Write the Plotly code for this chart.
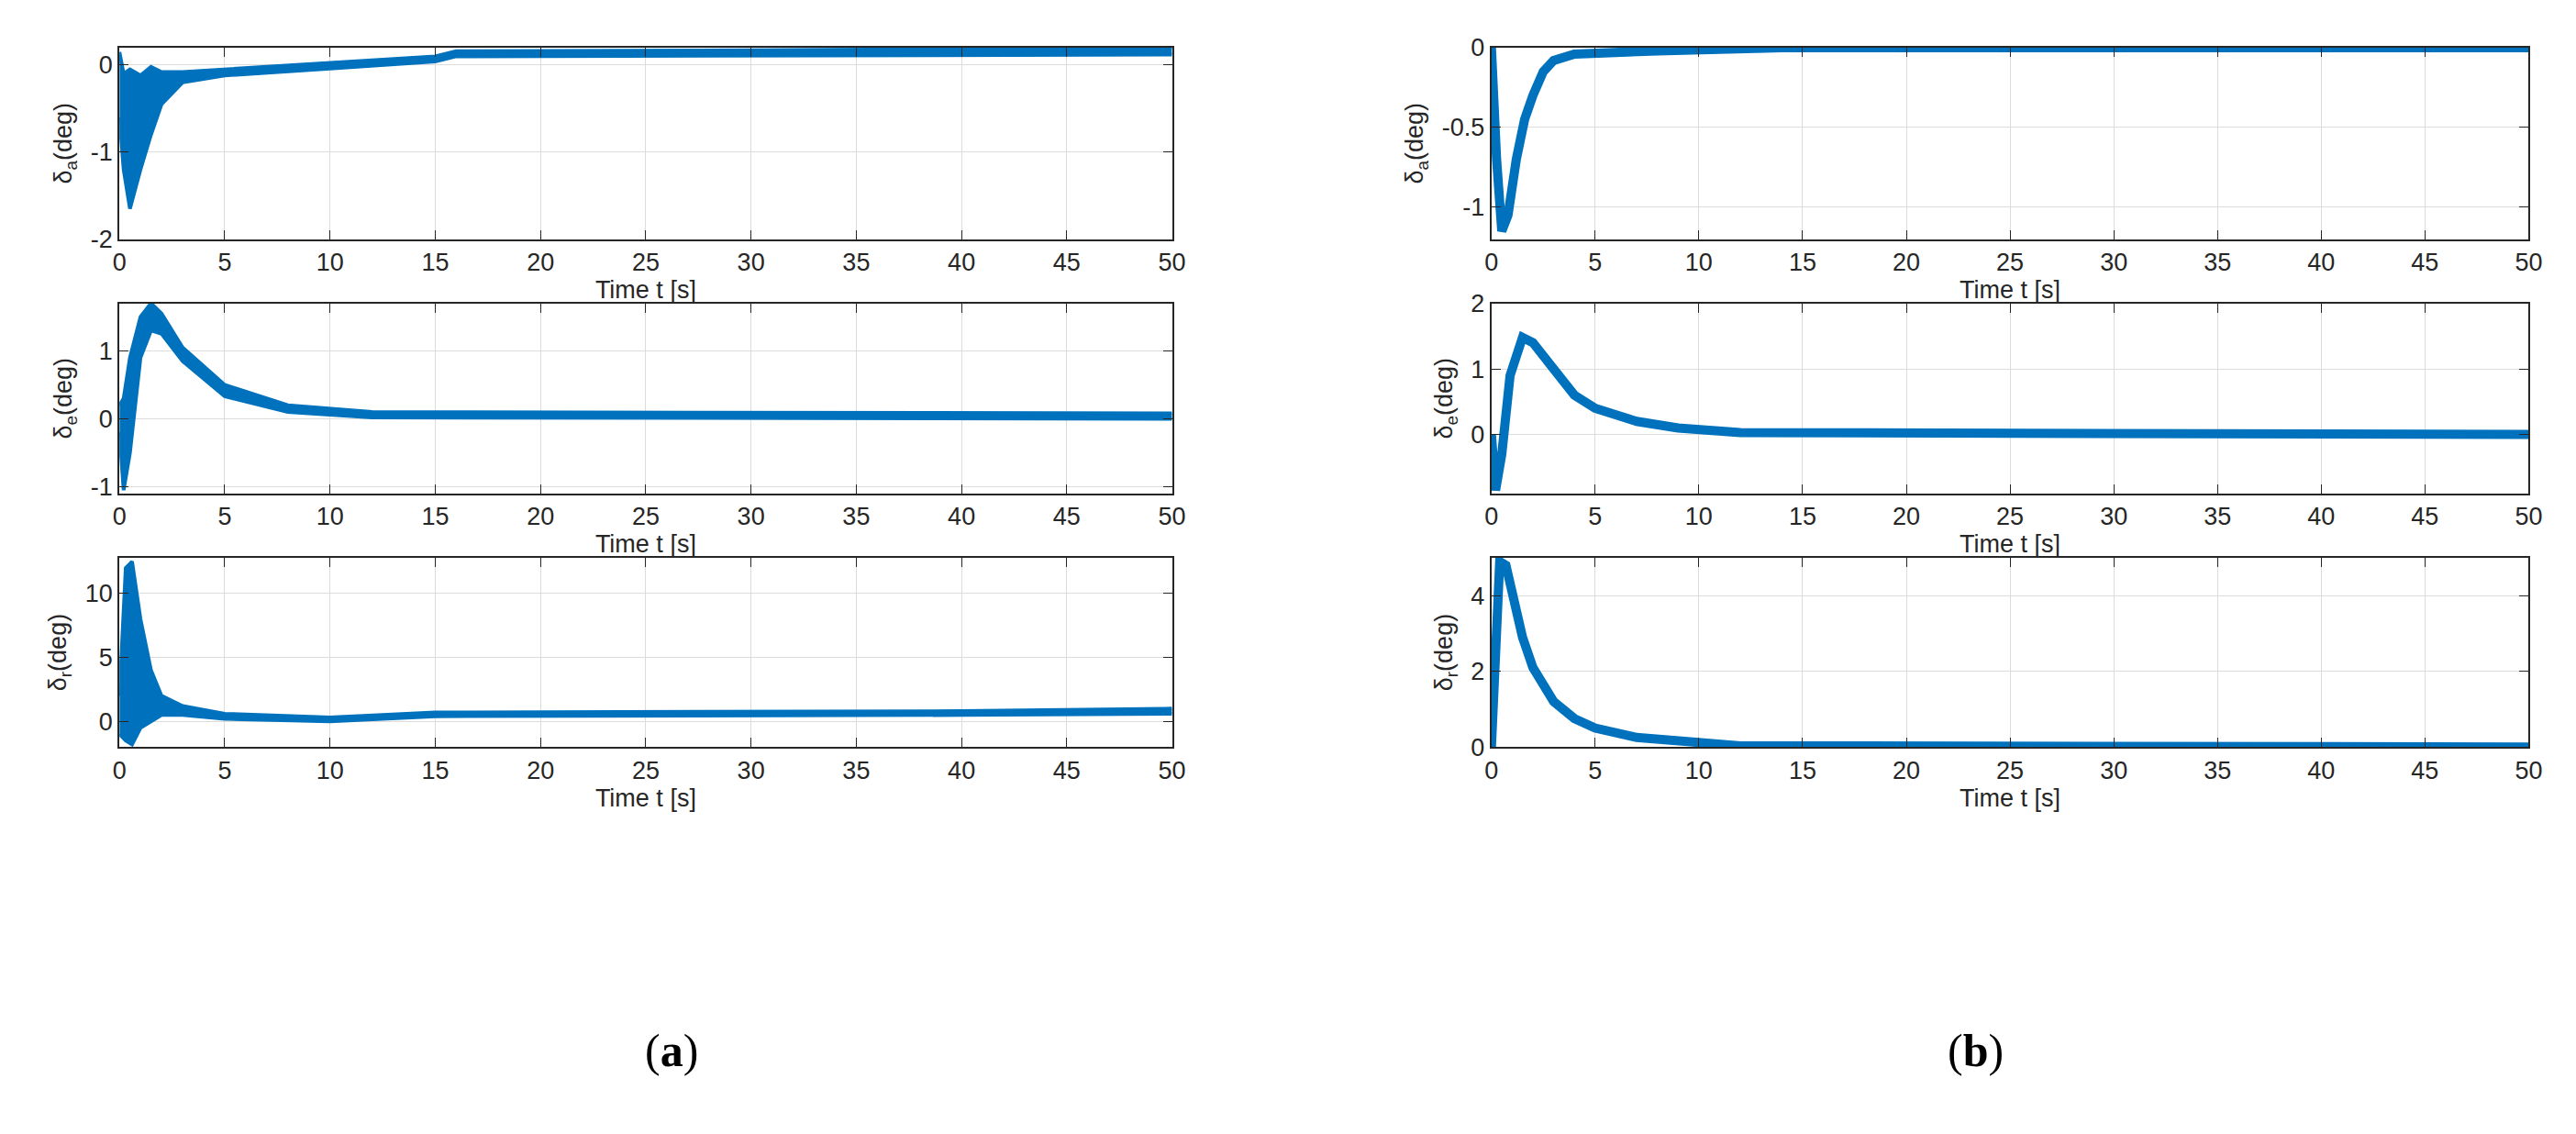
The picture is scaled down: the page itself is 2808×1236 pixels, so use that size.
import plotly.graph_objects as go
from plotly.subplots import make_subplots

BLUE = 'rgb(0,114,189)'

# (a) noisy responses: time and lower/upper envelope of the band
a_da_t  = [0, 0.2, 0.5, 1.0, 1.5, 2.0, 3.0, 5.0, 10, 15, 16, 30, 50]
a_da_lo = [-0.6, -1.2, -1.65, -1.2, -0.8, -0.45, -0.2, -0.12, -0.04, 0.04, 0.1, 0.11, 0.12]
a_da_hi = [0.15, -0.1, -0.05, -0.12, -0.02, -0.08, -0.08, -0.05, 0.03, 0.1, 0.16, 0.17, 0.2]

a_de_t  = [0, 0.2, 0.5, 1.0, 1.5, 2.0, 3.0, 5.0, 8.0, 12, 50]
a_de_lo = [-0.2, -1.05, -0.5, 0.9, 1.3, 1.25, 0.85, 0.33, 0.1, 0.02, 0.0]
a_de_hi = [0.2, 0.3, 0.9, 1.5, 1.7, 1.55, 1.05, 0.5, 0.2, 0.1, 0.08]

a_dr_t  = [0, 0.3, 0.6, 1.0, 1.5, 2.0, 3.0, 5.0, 10, 15, 40, 50]
a_dr_lo = [-1.0, -1.5, -1.8, -0.5, 0.0, 0.5, 0.5, 0.2, 0.0, 0.4, 0.5, 0.6]
a_dr_hi = [2.0, 12.0, 12.5, 8.0, 4.0, 2.0, 1.2, 0.6, 0.3, 0.7, 0.8, 1.0]

# (b) smooth responses
b_da_t = [0, 0.1, 0.25, 0.5, 0.8, 1.2, 1.6, 2.0, 2.5, 3.0, 4.0, 8.0, 14, 50]
b_da_y = [0, -0.3, -0.7, -1.15, -1.05, -0.7, -0.45, -0.3, -0.15, -0.08, -0.04, -0.02, 0, 0]

b_de_t = [0, 0.2, 0.5, 0.9, 1.5, 2.0, 3.0, 4.0, 5.0, 7.0, 9.0, 12, 50]
b_de_y = [0, -0.85, -0.3, 0.9, 1.48, 1.4, 1.0, 0.6, 0.4, 0.2, 0.1, 0.03, 0]

b_dr_t = [0, 0.15, 0.4, 0.7, 1.0, 1.5, 2.0, 3.0, 4.0, 5.0, 7.0, 10, 12, 50]
b_dr_y = [0, 1.5, 4.9, 4.8, 4.0, 2.9, 2.1, 1.2, 0.75, 0.5, 0.25, 0.1, 0.03, 0]

y_titles = ['δ<sub>a</sub>(deg)', 'δ<sub>e</sub>(deg)', 'δ<sub>r</sub>(deg)']
a_ranges = [[-2, 0.2], [-1.1, 1.7], [-2, 12.8]]
a_ticks = [[-2, -1, 0], [-1, 0, 1], [0, 5, 10]]
b_ranges = [[-1.2, 0], [-0.9, 2], [0, 5]]
b_ticks = [[-1, -0.5, 0], [0, 1, 2], [0, 2, 4]]

fig = make_subplots(rows=3, cols=2)

a_sets = [(a_da_t, a_da_lo, a_da_hi), (a_de_t, a_de_lo, a_de_hi), (a_dr_t, a_dr_lo, a_dr_hi)]
b_sets = [(b_da_t, b_da_y), (b_de_t, b_de_y), (b_dr_t, b_dr_y)]

for r in range(3):
    t, lo, hi = a_sets[r]
    fig.add_trace(go.Scatter(x=t, y=lo, mode='lines', line=dict(color=BLUE, width=4),
                             showlegend=False), row=r+1, col=1)
    fig.add_trace(go.Scatter(x=t, y=hi, mode='lines', line=dict(color=BLUE, width=4),
                             fill='tonexty', fillcolor=BLUE, showlegend=False), row=r+1, col=1)
    t, y = b_sets[r]
    fig.add_trace(go.Scatter(x=t, y=y, mode='lines', line=dict(color=BLUE, width=10),
                             showlegend=False), row=r+1, col=2)

# place panels like the original figure
xdom = [[0.041, 0.453], [0.578, 0.984]]
ydom = [[0.803, 0.976], [0.573, 0.745], [0.344, 0.515]]
axfont = dict(family='Liberation Sans, Arial', size=27, color='#262626')

for r in range(3):
    for c in range(2):
        fig.update_xaxes(domain=xdom[c], range=[0, 50], dtick=5, showgrid=True,
                         gridcolor='#dcdcdc', zeroline=False, showline=True, mirror='ticks',
                         linecolor='#262626', linewidth=2, ticks='inside', ticklen=10,
                         tickcolor='#262626', tickfont=axfont,
                         title=dict(text='Time t [s]', font=axfont, standoff=4),
                         row=r+1, col=c+1)
        rng = a_ranges[r] if c == 0 else b_ranges[r]
        tv = a_ticks[r] if c == 0 else b_ticks[r]
        fig.update_yaxes(domain=ydom[r], range=rng, tickvals=tv,
                         ticktext=[str(v).replace('-', '-') for v in tv], showgrid=True,
                         gridcolor='#dcdcdc', zeroline=False, showline=True, mirror='ticks',
                         linecolor='#262626', linewidth=2, ticks='inside', ticklen=10,
                         tickcolor='#262626', tickfont=axfont,
                         title=dict(text=y_titles[r], font=axfont, standoff=12),
                         row=r+1, col=c+1)

fig.add_annotation(text='(<b>a</b>)', x=0.246, y=0.045, xref='paper', yref='paper',
                   showarrow=False, font=dict(family='Liberation Serif', size=50, color='black'))
fig.add_annotation(text='(<b>b</b>)', x=0.779, y=0.045, xref='paper', yref='paper',
                   showarrow=False, font=dict(family='Liberation Serif', size=50, color='black'))

fig.update_layout(width=2808, height=1236, margin=dict(l=0, r=0, t=0, b=0),
                  plot_bgcolor='white', paper_bgcolor='white')

fig.write_html("out.html")
